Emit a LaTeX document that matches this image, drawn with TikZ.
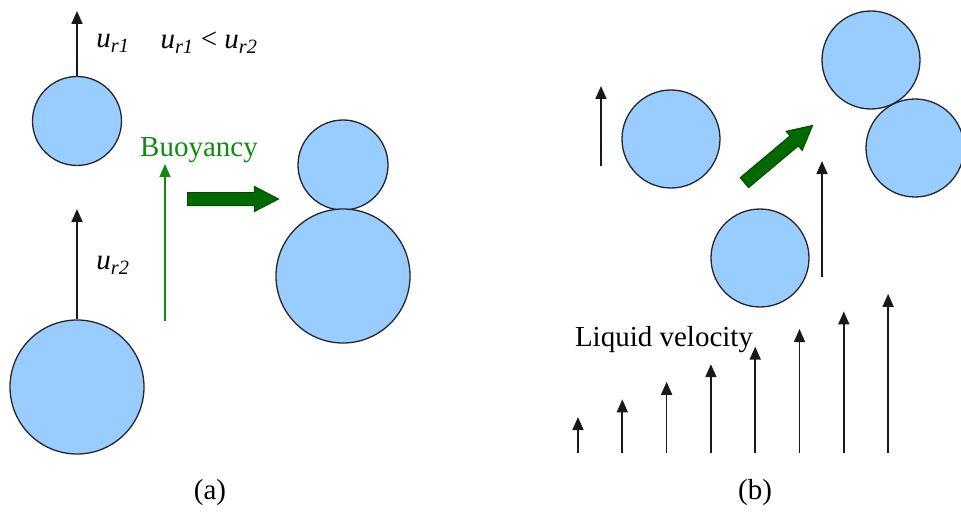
\documentclass[tikz,border=0pt]{standalone}
\usepackage{fontspec}
\setmainfont{Liberation Serif}
\usetikzlibrary{arrows.meta,shapes.arrows,positioning}

\definecolor{bubblefill}{HTML}{99CCFF}
\definecolor{buoygreen}{HTML}{108A10}
\definecolor{blockgreen}{HTML}{006A00}

\tikzset{
  bubble/.style={circle, draw=black!85, line width=1.3pt, fill=bubblefill, inner sep=0pt},
  vel/.style={-{Triangle[length=13pt,width=11pt]}, line width=1.7pt, draw=black!90},
  lbl/.style={font=\fontsize{29}{32}\selectfont, inner sep=0pt},
  blockarrow/.style={single arrow, draw=black!70!green, line width=1pt, fill=blockgreen,
    inner sep=6pt, single arrow head extend=6pt, single arrow tip angle=55, anchor=tail}
}
\newcommand{\ur}[1]{\textit{u}\textsubscript{\textit{r#1}}}

\begin{document}
\begin{tikzpicture}[x=1pt,y=-1pt]
  \useasboundingbox (0,0) rectangle (961,516);
  % (a) two bubbles rising at different speeds
  \node[bubble, minimum size=89pt] (small) at (77,121) {};
  \node[bubble, minimum size=134pt] (large) at (77,387) {};
  \coordinate (smalltip) at (77,11);
  \coordinate (largetip) at (77,209);
  \draw[vel] (small.north) -- (smalltip);
  \draw[vel] (large.north) -- (largetip);
  \node[lbl] (ur1) at (113,43) {\ur{1}};
  \node[lbl] (urcmp) at (209,43) {\ur{1} < \ur{2}};
  \node[lbl] (ur2) at (113,265) {\ur{2}};
  % buoyancy
  \coordinate (buoybase) at (165,321);
  \coordinate (buoytip) at (165,164);
  \draw[vel, draw=buoygreen, line width=1.3pt] (buoybase) -- (buoytip);
  \node[lbl, text=buoygreen] (buoy) at (199,150) {Buoyancy};
  % result of the collision
  \node[blockarrow, minimum height=91pt] (merge) at (187,199) {};
  \node[bubble, minimum size=90pt] (mtop) at (343,165) {};
  \node[bubble, minimum size=134pt] (mbot) at (343,276) {};
  \node[lbl] (capa) at (210,493) {(a)};

  % (b) bubbles in a shear flow
  \node[bubble, minimum size=98pt] (left) at (671,139) {};
  \node[bubble, minimum size=98pt] (low) at (760,258) {};
  \node[bubble, minimum size=98pt] (top) at (871,60) {};
  \node[bubble, minimum size=98pt] (right) at (915,148) {};
  \coordinate (leftbase) at (601,166);
  \coordinate (lefttip) at (601,86);
  \draw[vel] (leftbase) -- (lefttip);
  \coordinate (lowbase) at (822,277);
  \coordinate (lowtip) at (822,161);
  \draw[vel] (lowbase) -- (lowtip);
  \node[blockarrow, minimum height=89pt, rotate=40] (drift) at (744,183) {};
  % liquid velocity profile
  \foreach \i in {0,...,7}
    {
      \coordinate (pb\i) at ({578+44.3*\i},453);
      \coordinate (pt\i) at ({578+44.3*\i},{417-17.6*\i});
      \draw[vel] (pb\i) -- (pt\i);
    }
  \node[lbl] (liquid) at (664,340) {Liquid velocity};
  \node[lbl] (capb) at (755,493) {(b)};
\end{tikzpicture}
\end{document}
